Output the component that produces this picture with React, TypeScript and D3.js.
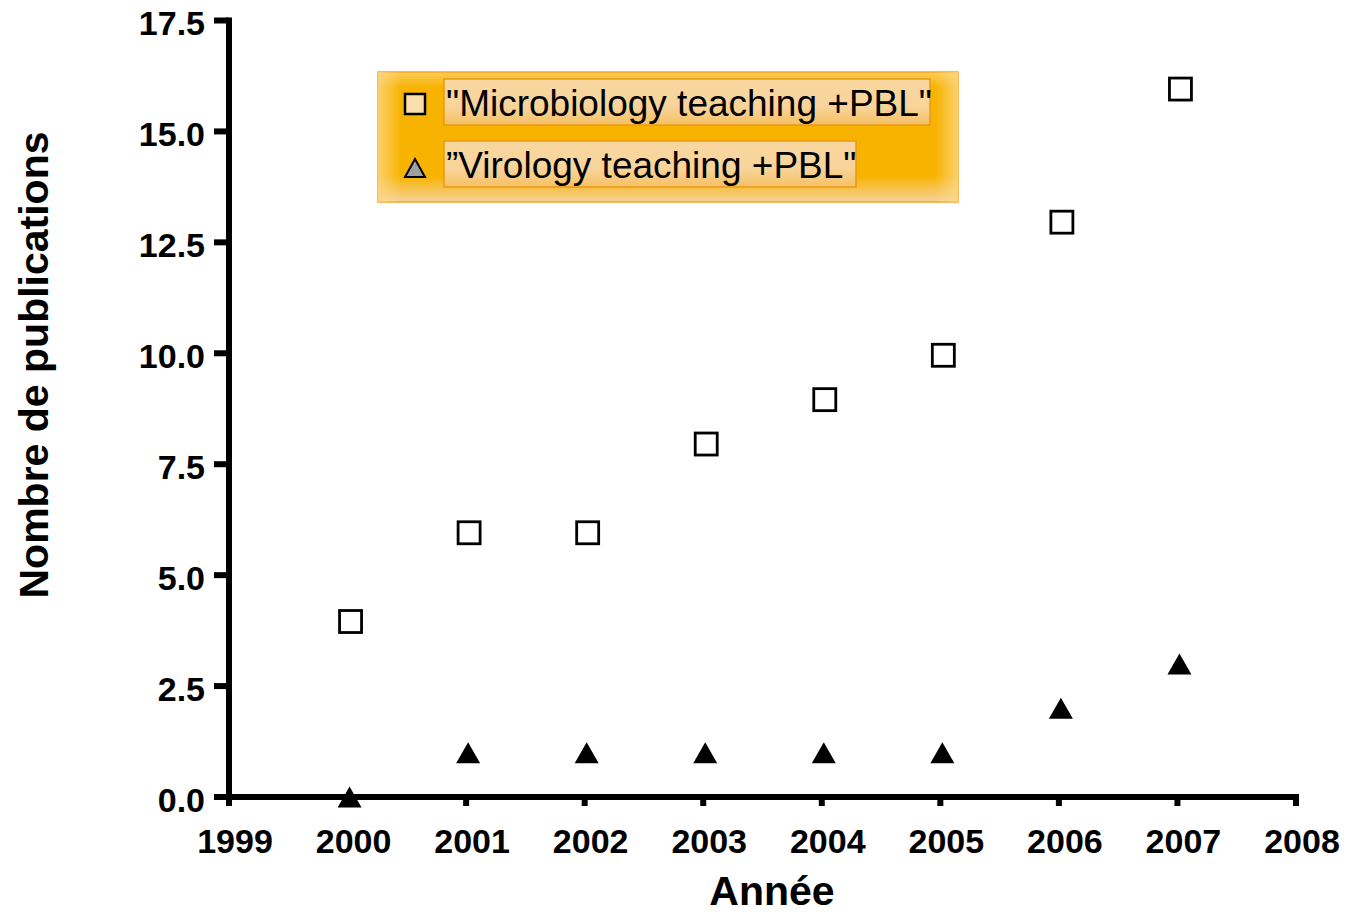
import React from "react";
import * as d3 from "d3";

const years = [2000, 2001, 2002, 2003, 2004, 2005, 2006, 2007];
const microbiology = [4, 6, 6, 8, 9, 10, 13, 16];
const virology = [0, 1, 1, 1, 1, 1, 2, 3];
const yTicks = [0, 2.5, 5, 7.5, 10, 12.5, 15, 17.5];
const xTicks = [1999, 2000, 2001, 2002, 2003, 2004, 2005, 2006, 2007, 2008];
const legendLabels = ['"Microbiology teaching +PBL"', '\u201DVirology teaching +PBL"'];

export default function App() {
  const W = 1350, H = 916;
  const left = 229, right = 1296, top = 20.5, bottom = 797;
  const x = d3.scaleLinear().domain([1999, 2008]).range([left, right]);
  const y = d3.scaleLinear().domain([0, 17.5]).range([bottom, top]);
  const font = "'Liberation Sans', Arial, sans-serif";
  const triPath = (cx: number, cy: number, w: number, h: number) =>
    d3.line()([[cx - w / 2, cy + h / 2], [cx, cy - h / 2], [cx + w / 2, cy + h / 2]]) + "Z";
  return (
    <svg width={W} height={H} style={{ position: "absolute", left: 0, top: 0 }} fontFamily={font}>
      <defs>
        <linearGradient id="lg" x1="0" y1="0" x2="0" y2="1">
          <stop offset="0" stopColor="#FBCB5A" />
          <stop offset="0.12" stopColor="#F8B300" />
          <stop offset="0.8" stopColor="#F8B300" />
          <stop offset="1" stopColor="#F5D39E" />
        </linearGradient>
        <linearGradient id="lgh" x1="0" y1="0" x2="1" y2="0">
          <stop offset="0" stopColor="#FCD98A" stopOpacity="0.8" />
          <stop offset="0.04" stopColor="#FCD98A" stopOpacity="0" />
          <stop offset="0.96" stopColor="#FCD98A" stopOpacity="0" />
          <stop offset="1" stopColor="#FCD98A" stopOpacity="0.8" />
        </linearGradient>
        <linearGradient id="tb" x1="0" y1="0" x2="0" y2="1">
          <stop offset="0" stopColor="#F9D7A0" />
          <stop offset="0.6" stopColor="#F8D49A" />
          <stop offset="1" stopColor="#F5C064" />
        </linearGradient>
      </defs>
      <rect x={0} y={0} width={W} height={H} fill="#fff" />
      {/* axes */}
      <line x1={left} x2={left} y1={top - 3} y2={bottom + 3} stroke="#000" strokeWidth={6} />
      <line x1={left - 3} x2={right + 3} y1={bottom} y2={bottom} stroke="#000" strokeWidth={6} />
      {yTicks.map((t) => (
        <g key={"y" + t}>
          <line x1={left - 15} x2={left} y1={y(t)} y2={y(t)} stroke="#000" strokeWidth={6} />
          <text x={205} y={y(t) + 3} dy="0.35em" textAnchor="end" fontSize={34} fontWeight="bold">
            {t.toFixed(1)}
          </text>
        </g>
      ))}
      {xTicks.map((t) => (
        <g key={"x" + t}>
          <line x1={x(t)} x2={x(t)} y1={bottom} y2={bottom + 9} stroke="#000" strokeWidth={6} />
          <text x={x(t) + 6} y={853} textAnchor="middle" fontSize={34} fontWeight="bold">
            {t}
          </text>
        </g>
      ))}
      <text x={772} y={905} textAnchor="middle" fontSize={41} fontWeight="bold">
        Année
      </text>
      <text transform={`translate(48, 365) rotate(-90)`} textAnchor="middle" fontSize={41} fontWeight="bold">
        Nombre de publications
      </text>
      {/* data */}
      {years.map((yr, i) => (
        <rect key={"m" + yr} x={x(yr) + 3 - 11} y={y(microbiology[i]) + 2 - 11} width={22} height={22} fill="#fff" stroke="#000" strokeWidth={2.8} />
      ))}
      {years.map((yr, i) => (
        <path key={"v" + yr} d={triPath(x(yr) + 2, y(virology[i]), 24, 21)} fill="#000" />
      ))}
      {/* legend */}
      <rect x={378} y={72} width={580} height={130} fill="url(#lg)" stroke="#F5A623" strokeWidth={1.5} />
      <rect x={378} y={72} width={580} height={130} fill="url(#lgh)" />
      <rect x={444} y={79} width={486} height={46} fill="url(#tb)" stroke="#E89A10" strokeWidth={1.5} />
      <rect x={444} y={141} width={412} height={46} fill="url(#tb)" stroke="#E89A10" strokeWidth={1.5} />
      <rect x={405} y={94} width={20} height={20} fill="#FBDFA8" stroke="#000" strokeWidth={2.5} />
      <path d={triPath(415, 168, 20, 18)} fill="#A0A0A0" stroke="#000" strokeWidth={2} />
      <text x={446} y={116} fontSize={37}>{legendLabels[0]}</text>
      <text x={446} y={178} fontSize={37}>{legendLabels[1]}</text>
    </svg>
  );
}
